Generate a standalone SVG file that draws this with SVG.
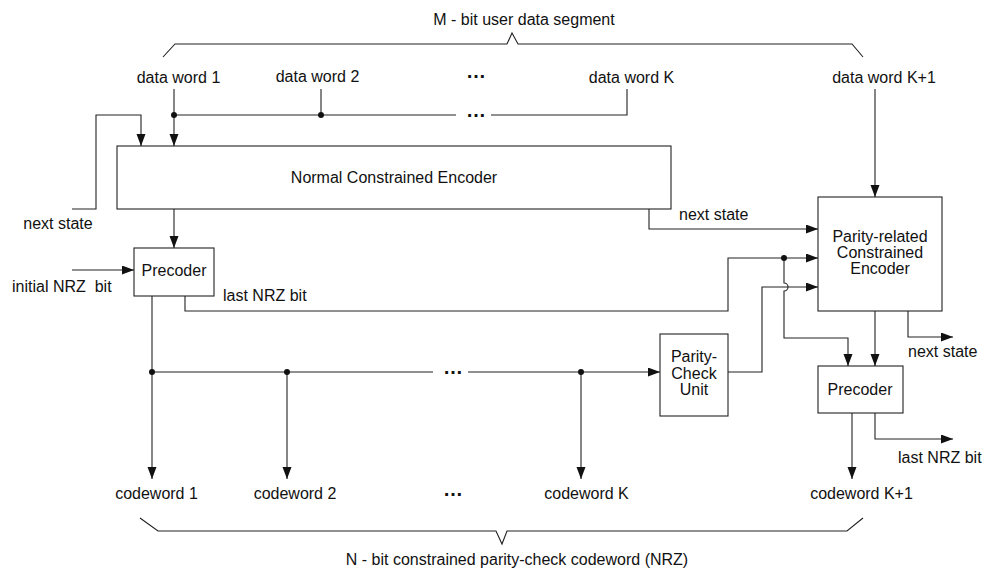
<svg xmlns="http://www.w3.org/2000/svg" width="990" height="575" viewBox="0 0 990 575">
<defs>
<marker id="ah" markerWidth="13" markerHeight="10" refX="12" refY="4.5" orient="auto" markerUnits="userSpaceOnUse">
<path d="M0,0 L12,4.5 L0,9 z" fill="#111"/>
</marker>
<style>
text{font-family:"Liberation Sans",Arial,sans-serif;font-size:16px;fill:#111}
.m{text-anchor:middle}
.box{fill:#fff;stroke:#222;stroke-width:1.1}
.ln{fill:none;stroke:#222;stroke-width:1.1}
.ar{fill:none;stroke:#222;stroke-width:1.1;marker-end:url(#ah)}
.dot{fill:#111}
.dd{font-size:20px;font-weight:bold}
</style>
</defs>
<rect width="990" height="575" fill="#fff"/>

<g id="braces">
<path class="ln" d="M163,57 L175,44 H507 L512,33 L518,44 H852 L863,57"/>
<path class="ln" d="M140,518 L158,531 H496 L502,544 L507,531 H847 L863,518"/>
<text class="m" x="524" y="25">M - bit user data segment</text>
<text class="m" x="517" y="565">N - bit constrained parity-check codeword (NRZ)</text>
</g>

<g id="labels">
<text class="m" x="178.5" y="83">data word 1</text>
<text class="m" x="317.5" y="82">data word 2</text>
<text class="m dd" x="476" y="78">…</text>
<text class="m" x="631.5" y="83">data word K</text>
<text class="m" x="884" y="83">data word K+1</text>
<text class="m dd" x="476" y="117">…</text>
<text class="m" x="58" y="229">next state</text>
<text x="12" y="292" xml:space="preserve">initial NRZ  bit</text>
<text x="223" y="301">last NRZ bit</text>
<text x="679" y="220">next state</text>
<text x="908" y="357">next state</text>
<text x="898" y="463">last NRZ bit</text>
<text class="m dd" x="453" y="374">…</text>
<text class="m" x="156.5" y="499">codeword 1</text>
<text class="m" x="295" y="499">codeword 2</text>
<text class="m dd" x="453" y="496">…</text>
<text class="m" x="586.5" y="499">codeword K</text>
<text class="m" x="861.5" y="499">codeword K+1</text>
</g>

<g id="connectors">
<path class="ar" d="M174,89 V146"/>
<path class="ln" d="M321,89 V115"/>
<path class="ln" d="M174,115 H456"/>
<path class="ln" d="M491,115 H627 V89"/>
<path class="ar" d="M875,89 V197"/>
<path class="ar" d="M72,209 H96 V115 H141 V146"/>
<path class="ar" d="M174,209 V248"/>
<path class="ar" d="M72,270 H134"/>
<path class="ar" d="M185,296 V311 H728 V258 H818"/>
<path class="ar" d="M649,209 V229 H818"/>
<path class="ar" d="M784,258 V283 A4,4 0 0 1 784,291 V338 H848 V366"/>
<path class="ar" d="M728,372 H762 V287 H818"/>
<path class="ar" d="M152,296 V479"/>
<path class="ln" d="M152,372 H433"/>
<path class="ar" d="M468,372 H660"/>
<path class="ar" d="M287,372 V479"/>
<path class="ar" d="M581,372 V479"/>
<path class="ar" d="M875,311 V366"/>
<path class="ar" d="M908,311 V337 H953"/>
<path class="ar" d="M852,413 V479"/>
<path class="ar" d="M875,413 V439 H953"/>
<circle class="dot" cx="174" cy="115" r="3"/>
<circle class="dot" cx="321" cy="115" r="3"/>
<circle class="dot" cx="784" cy="258" r="3"/>
<circle class="dot" cx="152" cy="372" r="3"/>
<circle class="dot" cx="287" cy="372" r="3"/>
<circle class="dot" cx="581" cy="372" r="3"/>
</g>

<g id="normal-encoder">
<rect class="box" x="117" y="146" width="554" height="63"/>
<text class="m" x="394" y="183">Normal Constrained Encoder</text>
</g>
<g id="precoder1">
<rect class="box" x="134" y="248" width="80" height="48"/>
<text class="m" x="174" y="276">Precoder</text>
</g>
<g id="parity-encoder">
<rect class="box" x="818" y="197" width="124" height="114"/>
<text class="m" x="880" y="242">Parity-related</text>
<text class="m" x="880" y="258">Constrained</text>
<text class="m" x="880" y="274">Encoder</text>
</g>
<g id="parity-check">
<rect class="box" x="660" y="334" width="68" height="82"/>
<text class="m" x="694" y="362">Parity-</text>
<text class="m" x="694" y="379">Check</text>
<text class="m" x="694" y="395">Unit</text>
</g>
<g id="precoder2">
<rect class="box" x="818" y="366" width="85" height="47"/>
<text class="m" x="860" y="395">Precoder</text>
</g>
</svg>
